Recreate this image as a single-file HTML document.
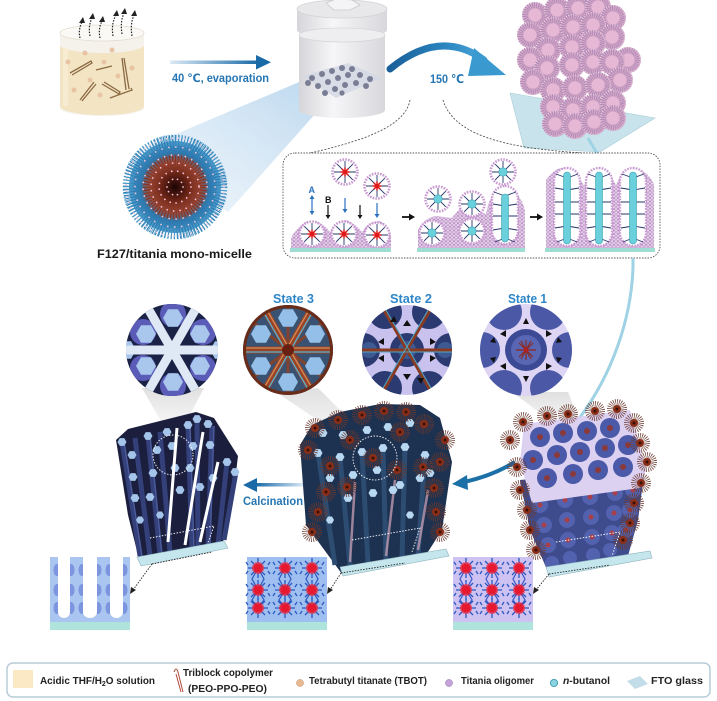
<!DOCTYPE html>
<html><head><meta charset="utf-8">
<style>
html,body{margin:0;padding:0;background:#fff;}
svg{display:block;}
text{font-family:"Liberation Sans","DejaVu Sans",Arial,sans-serif;font-weight:bold;}
</style></head><body>
<svg width="717" height="701" viewBox="0 0 717 701" xmlns="http://www.w3.org/2000/svg">
<defs>
 <radialGradient id="mg" cx="0.5" cy="0.5" r="0.5">
  <stop offset="0" stop-color="#1a0404"/>
  <stop offset="0.3" stop-color="#6a2416"/>
  <stop offset="0.55" stop-color="#9a4a3a"/>
  <stop offset="0.75" stop-color="#2f78ad"/>
  <stop offset="1" stop-color="#4b97c8"/>
 </radialGradient>
 <linearGradient id="arr1" x1="0" x2="1"><stop offset="0" stop-color="#dceaf5"/><stop offset="1" stop-color="#1a6aa8"/></linearGradient>
 <linearGradient id="arr2" x1="0" x2="1"><stop offset="0" stop-color="#1a5f9a"/><stop offset="0.6" stop-color="#2a86c0"/><stop offset="1" stop-color="#4aa6d8"/></linearGradient>
 <linearGradient id="arr3" x1="1" x2="0"><stop offset="0" stop-color="#dceaf5"/><stop offset="1" stop-color="#1a6aa8"/></linearGradient>
 <linearGradient id="beam" x1="1" y1="0" x2="0" y2="1"><stop offset="0" stop-color="#b8d6ee" stop-opacity="0.95"/><stop offset="1" stop-color="#e2eef8" stop-opacity="0.5"/></linearGradient>
 <linearGradient id="jarg" x1="0" x2="1"><stop offset="0" stop-color="#d6d6da"/><stop offset="0.4" stop-color="#f6f6f8"/><stop offset="1" stop-color="#d8d8dc"/></linearGradient>
 <linearGradient id="gb" x1="0" y1="0" x2="0" y2="1"><stop offset="0" stop-color="#dcdcdc" stop-opacity="0.9"/><stop offset="1" stop-color="#f2f2f2" stop-opacity="0.6"/></linearGradient>
 <pattern id="pd" width="4" height="3.6" patternUnits="userSpaceOnUse"><rect width="4" height="3.6" fill="#f3e4f3"/><circle cx="2" cy="1.8" r="1.5" fill="#e8c8ec" stroke="#a880b8" stroke-width="0.5"/></pattern>
 <polygon id="hx" points="10,0 5,8.7 -5,8.7 -10,0 -5,-8.7 5,-8.7"/>
 <g id="pb">
  <circle r="13" fill="#d3a4c6"/>
  <circle r="10" fill="none" stroke="#7a6aa2" stroke-width="6" stroke-dasharray="0.6 1.5" opacity="0.6"/>
  <circle r="6.5" fill="#e6b8d6"/>
  <circle r="12.3" fill="none" stroke="#f2d6e8" stroke-width="1" stroke-dasharray="1 1.5"/>
 </g>
 <g id="sp">
  <circle r="6.5" fill="none" stroke="#6a3a30" stroke-width="7" stroke-dasharray="0.6 1.1"/>
  <circle r="4" fill="#8a2e18"/>
  <circle r="1.5" fill="#3a1008"/>
 </g>
 <g id="mr">
  <circle r="12.5" fill="#fff" stroke="#c89ad0" stroke-width="2.6" stroke-dasharray="1.6 1.2"/>
  <path d="M0 0L0 -11M0 0L7.8 -7.8M0 0L11 0M0 0L7.8 7.8M0 0L0 11M0 0L-7.8 7.8M0 0L-11 0M0 0L-7.8 -7.8" stroke="#243468" stroke-width="0.9"/>
  <path d="M-4.5 0L4.5 0M0 -4.5L0 4.5M-3.2 -3.2L3.2 3.2M-3.2 3.2L3.2 -3.2" stroke="#e01818" stroke-width="1.5"/>
 </g>
 <g id="mc">
  <circle r="12.5" fill="#fff" stroke="#c89ad0" stroke-width="2.6" stroke-dasharray="1.6 1.2"/>
  <path d="M0 0L0 -11M0 0L7.8 -7.8M0 0L11 0M0 0L7.8 7.8M0 0L0 11M0 0L-7.8 7.8M0 0L-11 0M0 0L-7.8 -7.8" stroke="#243468" stroke-width="0.9"/>
  <circle r="4.2" fill="#6ad0dc" stroke="#3aa0b0" stroke-width="0.6"/>
 </g>
 <g id="st">
  <path d="M0 -10L0 10M-10 0L10 0M-7 -7L7 7M-7 7L7 -7M-10 -3L-12 -6M-10 3L-12 6M10 -3L12 -6M10 3L12 6" stroke="#2a58c0" stroke-width="1.3"/>
  <path d="M0 -6L0 6M-6 0L6 0M-4.2 -4.2L4.2 4.2M-4.2 4.2L4.2 -4.2M-2.3 -5.5L2.3 5.5M-5.5 -2.3L5.5 2.3M-2.3 5.5L2.3 -5.5M-5.5 2.3L5.5 -2.3" stroke="#e8182e" stroke-width="1.4"/>
  <circle r="2" fill="#e8182e"/>
 </g>
 <clipPath id="c1"><circle cx="172" cy="350" r="46"/></clipPath>
 <clipPath id="c3"><circle cx="288" cy="350" r="45"/></clipPath>
 <clipPath id="c2"><circle cx="407" cy="350" r="45"/></clipPath>
 <clipPath id="c0"><circle cx="526" cy="350" r="46"/></clipPath>
</defs>

<!-- ===== Beaker ===== -->
<path d="M60 33 V108 A42 8 0 0 0 144 108 V33 Z" fill="#f5f2ec"/>
<path d="M60 45 V106 A42 9 0 0 0 144 106 V45 A42 8 0 0 1 60 45 Z" fill="#f3e4c4"/>
<ellipse cx="102" cy="33" rx="42" ry="8" fill="#fbf9f5" stroke="#e2dccf" stroke-width="0.8"/>
<rect x="63" y="48" width="5" height="58" fill="#f8ecd4" opacity="0.8"/>
<g stroke="#8b6a42" stroke-width="1.3" fill="none">
 <path d="M72 75 L92 63 L91 61 L70 73"/>
 <path d="M80 100 L94 82 M82 101 L96 84"/>
 <path d="M104 82 L120 92 L119 94 L102 84"/>
 <path d="M122 58 L126 90 M124 58 L129 89"/>
 <path d="M96 70 L112 66"/>
 <path d="M110 98 L132 90 L131 88"/>
</g>
<g fill="#e8c4a4">
 <circle cx="85" cy="53" r="2.5"/><circle cx="112" cy="50" r="2.5"/><circle cx="90" cy="80" r="2.5"/>
 <circle cx="118" cy="76" r="2.5"/><circle cx="100" cy="95" r="2.5"/><circle cx="74" cy="90" r="2.5"/>
 <circle cx="132" cy="68" r="2.5"/><circle cx="104" cy="62" r="2.5"/><circle cx="68" cy="62" r="2.5"/>
</g>
<g stroke="#222" stroke-width="1.2" stroke-dasharray="1.5 1.4" fill="none">
 <path d="M80 38 Q78 30 82 22"/><path d="M90 36 Q88 26 92 18"/><path d="M100 38 Q98 29 102 21"/>
 <path d="M113 36 Q111 24 116 15"/><path d="M122 34 Q120 22 124 13"/><path d="M132 36 Q130 24 134 15"/>
</g>
<g fill="#222">
 <polygon points="79,23 83,17 85,23"/><polygon points="89,19 93,13 95,19"/><polygon points="99,22 103,16 105,22"/>
 <polygon points="113,16 117,10 119,16"/><polygon points="121,14 125,8 127,14"/><polygon points="131,16 135,10 137,16"/>
</g>

<!-- arrow 40C -->
<rect x="170" y="60.5" width="88" height="3.5" fill="url(#arr1)"/>
<polygon points="256,55 271,62.3 256,69.5" fill="#1a6aa8"/>
<text x="172" y="82" font-size="11.5" fill="#2676b4" textLength="97" lengthAdjust="spacingAndGlyphs">40 ℃, evaporation</text>

<!-- beam -->
<polygon points="304,80 324,104 228,212 138,150" fill="url(#beam)"/>

<!-- ===== Jar ===== -->
<path d="M297 9 V30 A45 8 0 0 0 387 30 V9 Z" fill="url(#jarg)"/>
<ellipse cx="342" cy="9" rx="45" ry="9" fill="#e8e8ea" stroke="#d2d2d6" stroke-width="0.8"/>
<polygon points="326,3 336,-1 352,0 360,5 350,10 334,10" fill="#f4f4f6" stroke="#cacace" stroke-width="0.8"/>
<path d="M299 35 V110 A43 8 0 0 0 385 110 V35 Z" fill="url(#jarg)"/>
<ellipse cx="342" cy="35" rx="43" ry="7" fill="#eeeef0" stroke="#d6d6da" stroke-width="0.8"/>
<polygon points="302,76 348,63 382,78 336,98" fill="#d4d8e4" opacity="0.85"/>
<g fill="#7a7e94">
 <circle cx="312" cy="78" r="3"/><circle cx="322" cy="74" r="3"/><circle cx="332" cy="71" r="3"/><circle cx="342" cy="68" r="3"/><circle cx="352" cy="69" r="3"/>
 <circle cx="318" cy="86" r="3"/><circle cx="328" cy="82" r="3"/><circle cx="338" cy="78" r="3"/><circle cx="348" cy="75" r="3"/><circle cx="360" cy="75" r="3"/><circle cx="370" cy="79" r="3"/>
 <circle cx="325" cy="93" r="3"/><circle cx="335" cy="89" r="3"/><circle cx="345" cy="85" r="3"/><circle cx="356" cy="83" r="3"/><circle cx="366" cy="86" r="3"/>
 <circle cx="308" cy="83" r="3"/><circle cx="342" cy="93" r="2.6"/>
</g>

<!-- ===== Main micelle ===== -->
<circle cx="175" cy="187" r="46" fill="url(#mg)"/>
<circle cx="175" cy="187" r="43" fill="none" stroke="#2a7cb4" stroke-width="18" stroke-dasharray="1 1.7"/>
<circle cx="175" cy="187" r="47" fill="none" stroke="#4fa0cc" stroke-width="11" stroke-dasharray="0.8 2.4"/>
<circle cx="175" cy="187" r="24" fill="none" stroke="#8a3422" stroke-width="16" stroke-dasharray="1 1.4"/>
<g fill="none" stroke="#f2c4d8" stroke-width="1.8" stroke-linecap="round">
 <circle cx="175" cy="187" r="8" stroke-dasharray="0 5"/>
 <circle cx="175" cy="187" r="16" stroke-dasharray="0 6"/>
 <circle cx="175" cy="187" r="24" stroke-dasharray="0 6.5"/>
 <circle cx="175" cy="187" r="32" stroke-dasharray="0 7"/>
 <circle cx="175" cy="187" r="40" stroke-dasharray="0 7"/>
 <circle cx="175" cy="187" r="49" stroke-dasharray="0 6"/>
</g>
<text x="97" y="258" font-size="12" fill="#1a1a1a" textLength="155" lengthAdjust="spacingAndGlyphs">F127/titania mono-micelle</text>

<!-- curved arrow 150 -->
<path d="M390 69 Q440 28 484 60" fill="none" stroke="url(#arr2)" stroke-width="7" stroke-linecap="round"/>
<polygon points="474,48 506,75 468,76" fill="#3a9ad0"/>
<text x="430" y="83" font-size="12" fill="#2676b4" textLength="34" lengthAdjust="spacingAndGlyphs">150 ℃</text>

<!-- ===== Pink sphere stack ===== -->
<polygon points="510,93 655,118 600,152 524,148" fill="#c8e3eb" stroke="#a8ccd8" stroke-width="0.6"/>
<g>
 <use href="#pb" x="535" y="15"/><use href="#pb" x="557" y="10"/><use href="#pb" x="578" y="8"/><use href="#pb" x="598" y="7"/><use href="#pb" x="613" y="18"/>
 <use href="#pb" x="530" y="35"/><use href="#pb" x="553" y="30"/><use href="#pb" x="573" y="27"/><use href="#pb" x="593" y="25"/><use href="#pb" x="612" y="37"/>
 <use href="#pb" x="548" y="50"/><use href="#pb" x="572" y="47"/><use href="#pb" x="593" y="43"/><use href="#pb" x="628" y="60"/>
 <use href="#pb" x="530" y="60"/><use href="#pb" x="547" y="68"/><use href="#pb" x="572" y="65"/><use href="#pb" x="593" y="62"/><use href="#pb" x="612" y="62"/>
 <use href="#pb" x="533" y="82"/><use href="#pb" x="620" y="80"/><use href="#pb" x="553" y="90"/><use href="#pb" x="575" y="88"/><use href="#pb" x="598" y="85"/>
 <use href="#pb" x="553" y="107"/><use href="#pb" x="573" y="110"/><use href="#pb" x="593" y="107"/><use href="#pb" x="613" y="103"/>
 <use href="#pb" x="555" y="124"/><use href="#pb" x="575" y="126"/><use href="#pb" x="594" y="122"/><use href="#pb" x="613" y="118"/>
</g>

<!-- dotted curves -->
<path d="M410 100 C405 130 350 145 287 158" fill="none" stroke="#444" stroke-width="0.8" stroke-dasharray="2 1.5"/>
<path d="M443 100 C455 140 520 150 600 154" fill="none" stroke="#444" stroke-width="0.8" stroke-dasharray="2 1.5"/>
<line x1="588" y1="138" x2="598" y2="155" stroke="#9ed2e4" stroke-width="3"/>

<!-- ===== Box ===== -->
<rect x="283" y="153" width="377" height="105" rx="12" fill="#fff" stroke="#555" stroke-width="0.9" stroke-dasharray="1.5 1.3"/>
<!-- panel 1 -->
<path d="M291 248 L291 238 Q296 228 306 222 L318 222 Q326 226 330 232 Q336 222 346 220 Q356 224 362 232 Q368 222 380 221 Q390 228 391 238 L391 248 Z" fill="url(#pd)"/>
<use href="#mr" x="312" y="234"/><use href="#mr" x="344" y="234"/><use href="#mr" x="377" y="235"/>
<use href="#mr" x="345" y="172"/><use href="#mr" x="377" y="186"/>
<rect x="290" y="248" width="101" height="4" fill="#9edcd4"/>
<g stroke-width="1.2">
 <line x1="312" y1="198" x2="312" y2="212" stroke="#2a70c0"/>
 <line x1="345" y1="198" x2="345" y2="210" stroke="#2a70c0"/>
 <line x1="377" y1="203" x2="377" y2="215" stroke="#2a70c0"/>
 <line x1="328" y1="205" x2="328" y2="216" stroke="#111"/>
 <line x1="360" y1="205" x2="360" y2="216" stroke="#111"/>
</g>
<g>
 <polygon points="309.5,211 312,215 314.5,211" fill="#2a70c0"/><polygon points="309.5,199 312,195 314.5,199" fill="#2a70c0"/>
 <polygon points="342.5,209 345,213 347.5,209" fill="#2a70c0"/><polygon points="374.5,214 377,218 379.5,214" fill="#2a70c0"/>
 <polygon points="325.5,215 328,219 330.5,215" fill="#111"/><polygon points="357.5,215 360,219 362.5,215" fill="#111"/>
</g>
<text x="308.5" y="193" font-size="9" fill="#2a70c0">A</text>
<text x="325" y="203" font-size="9" fill="#111">B</text>
<line x1="402" y1="217" x2="410" y2="217" stroke="#111" stroke-width="1.8"/><polygon points="409,213.5 415,217 409,220.5" fill="#111"/>
<!-- panel 2 -->
<path d="M418 248 L418 230 Q424 218 436 216 L452 218 Q460 206 470 205 Q478 212 486 214 Q490 190 505 186 Q520 192 525 210 L525 248 Z" fill="url(#pd)"/>
<use href="#mc" x="432" y="233"/><use href="#mc" x="472" y="231"/><use href="#mc" x="472" y="204"/><use href="#mc" x="438" y="199"/>
<rect x="492" y="186" width="26" height="58" rx="13" fill="#fff" stroke="#c89ad0" stroke-width="2.4" stroke-dasharray="1.6 1.2"/>
<path d="M505 196 L494 192 M505 206 L493 204 M505 216 L493 216 M505 228 L493 230 M505 238 L495 242 M505 196 L516 192 M505 206 L517 204 M505 216 L517 216 M505 228 L517 230 M505 238 L515 242" stroke="#243468" stroke-width="0.9"/>
<rect x="501.5" y="194" width="7" height="48" rx="3.5" fill="#6ad0dc" stroke="#3aa0b0" stroke-width="0.6"/>
<use href="#mc" x="503" y="172"/>
<rect x="417" y="248" width="108" height="4" fill="#9edcd4"/>
<line x1="530" y1="217" x2="538" y2="217" stroke="#111" stroke-width="1.8"/><polygon points="537,213.5 543,217 537,220.5" fill="#111"/>
<!-- panel 3 -->
<path d="M546 248 L546 180 Q556 166 566 168 Q578 174 584 186 Q592 168 600 168 Q610 170 616 186 Q622 168 634 168 Q650 172 654 185 L654 248 Z" fill="url(#pd)"/>
<g>
 <rect x="554" y="168" width="26" height="78" rx="13" fill="#fff" stroke="#c89ad0" stroke-width="2.4" stroke-dasharray="1.6 1.2"/>
 <rect x="586" y="168" width="26" height="78" rx="13" fill="#fff" stroke="#c89ad0" stroke-width="2.4" stroke-dasharray="1.6 1.2"/>
 <rect x="620" y="168" width="26" height="78" rx="13" fill="#fff" stroke="#c89ad0" stroke-width="2.4" stroke-dasharray="1.6 1.2"/>
 <g stroke="#243468" stroke-width="0.9">
  <path d="M567 178 L556 174 M567 190 L555 188 M567 202 L555 202 M567 214 L555 214 M567 226 L555 228 M567 238 L557 242 M567 178 L578 174 M567 190 L579 188 M567 202 L579 202 M567 214 L579 214 M567 226 L579 228 M567 238 L577 242"/>
  <path d="M599 178 L588 174 M599 190 L587 188 M599 202 L587 202 M599 214 L587 214 M599 226 L587 228 M599 238 L589 242 M599 178 L610 174 M599 190 L611 188 M599 202 L611 202 M599 214 L611 214 M599 226 L611 228 M599 238 L609 242"/>
  <path d="M633 178 L622 174 M633 190 L621 188 M633 202 L621 202 M633 214 L621 214 M633 226 L621 228 M633 238 L623 242 M633 178 L644 174 M633 190 L645 188 M633 202 L645 202 M633 214 L645 214 M633 226 L645 228 M633 238 L643 242"/>
 </g>
 <rect x="563.5" y="172" width="7" height="72" rx="3.5" fill="#6ad0dc" stroke="#3aa0b0" stroke-width="0.6"/>
 <rect x="595.5" y="172" width="7" height="72" rx="3.5" fill="#6ad0dc" stroke="#3aa0b0" stroke-width="0.6"/>
 <rect x="629.5" y="172" width="7" height="72" rx="3.5" fill="#6ad0dc" stroke="#3aa0b0" stroke-width="0.6"/>
</g>
<rect x="545" y="248" width="110" height="4" fill="#9edcd4"/>

<!-- light blue connector line -->
<path d="M633 258 L633 268 C631 320 612 375 578 420" fill="none" stroke="#9ed2e4" stroke-width="3"/>

<!-- ===== gray beams ===== -->
<polygon points="142,388 204,388 182,430 166,430" fill="url(#gb)"/>
<polygon points="276,392 318,388 366,436 350,442" fill="url(#gb)"/>
<polygon points="512,392 568,392 582,428 560,428" fill="url(#gb)"/>

<!-- ===== State circles ===== -->
<g clip-path="url(#c1)">
 <rect x="120" y="300" width="110" height="100" fill="#1a2246"/>
 <g fill="#5a5cb8">
  <circle cx="173" cy="314" r="13"/><circle cx="203" cy="332" r="13"/><circle cx="203" cy="368" r="13"/>
  <circle cx="173" cy="386" r="13"/><circle cx="143" cy="368" r="13"/><circle cx="143" cy="332" r="13"/>
 </g>
 <g fill="#a9c6ec">
  <use href="#hx" transform="translate(173,318)"/><use href="#hx" transform="translate(200,334)"/><use href="#hx" transform="translate(200,366)"/>
  <use href="#hx" transform="translate(173,382)"/><use href="#hx" transform="translate(146,366)"/><use href="#hx" transform="translate(146,334)"/>
  <use href="#hx" transform="translate(126,350)"/><use href="#hx" transform="translate(220,350)"/>
 </g>
 <g stroke="#dfe8f5" stroke-width="9">
  <line x1="120" y1="350" x2="225" y2="350"/>
  <line x1="146" y1="305" x2="198" y2="395"/>
  <line x1="198" y1="305" x2="146" y2="395"/>
 </g>
</g>
<g clip-path="url(#c3)">
 <rect x="240" y="300" width="100" height="100" fill="#3a5272"/>
 <g stroke="#8a4226" stroke-width="3" opacity="0.9">
  <line x1="288" y1="350" x2="250" y2="320"/><line x1="288" y1="350" x2="326" y2="320"/><line x1="288" y1="350" x2="250" y2="380"/><line x1="288" y1="350" x2="326" y2="380"/>
  <line x1="288" y1="350" x2="288" y2="302"/><line x1="288" y1="350" x2="288" y2="398"/>
 </g>
 <g fill="#94bfe8">
  <use href="#hx" transform="translate(288,318)"/><use href="#hx" transform="translate(315,334)"/><use href="#hx" transform="translate(315,366)"/>
  <use href="#hx" transform="translate(288,382)"/><use href="#hx" transform="translate(261,366)"/><use href="#hx" transform="translate(261,334)"/>
 </g>
 <g stroke="#9a4426" stroke-width="7">
  <line x1="240" y1="350" x2="336" y2="350"/><line x1="262" y1="305" x2="314" y2="395"/><line x1="314" y1="305" x2="262" y2="395"/>
 </g>
 <g stroke="#d48a58" stroke-width="1.3">
  <line x1="240" y1="348" x2="336" y2="348"/><line x1="264" y1="305" x2="316" y2="395"/><line x1="312" y1="305" x2="260" y2="395"/>
 </g>
 <g stroke="#58b0d0" stroke-width="1.3">
  <line x1="240" y1="352" x2="336" y2="352"/><line x1="260" y1="306" x2="312" y2="396"/><line x1="316" y1="306" x2="264" y2="396"/>
 </g>
 <circle cx="288" cy="350" r="6" fill="#6a2010"/>
 <circle cx="288" cy="350" r="44" fill="none" stroke="#6a2c18" stroke-width="4"/>
</g>
<g clip-path="url(#c2)">
 <rect x="360" y="300" width="100" height="100" fill="#c9c2ee"/>
 <g fill="#2c3a72">
  <circle cx="451" cy="350" r="17"/><circle cx="429" cy="388" r="17"/><circle cx="385" cy="388" r="17"/>
  <circle cx="363" cy="350" r="17"/><circle cx="385" cy="312" r="17"/><circle cx="429" cy="312" r="17"/>
  <circle cx="407" cy="350" r="17"/>
 </g>
 <g fill="#4a70a8" opacity="0.6">
  <circle cx="445" cy="350" r="8"/><circle cx="369" cy="350" r="8"/><circle cx="407" cy="350" r="9"/>
 </g>
 <g stroke="#8a3a20" stroke-width="3">
  <line x1="360" y1="350" x2="455" y2="350"/><line x1="381" y1="305" x2="433" y2="395"/><line x1="433" y1="305" x2="381" y2="395"/>
 </g>
 <g stroke="#50a8c8" stroke-width="1">
  <line x1="360" y1="352" x2="455" y2="352"/><line x1="383" y1="305" x2="435" y2="395"/><line x1="431" y1="305" x2="379" y2="395"/>
 </g>
 <g fill="#111">
  <polygon points="403,326 407,320 411,326"/><polygon points="403,374 407,380 411,374"/>
  <polygon points="384,338 378,342 384,345"/><polygon points="430,338 436,342 430,345"/>
  <polygon points="384,355 378,358 384,362"/><polygon points="430,355 436,358 430,362"/>
  <polygon points="390,322 394,316 397,322"/><polygon points="417,378 421,384 424,378"/>
 </g>
</g>
<g clip-path="url(#c0)">
 <rect x="478" y="300" width="100" height="100" fill="#ddd5f3"/>
 <g fill="#4a58a6">
  <circle cx="570" cy="350" r="18"/><circle cx="548" cy="388" r="18"/><circle cx="504" cy="388" r="18"/>
  <circle cx="482" cy="350" r="18"/><circle cx="504" cy="312" r="18"/><circle cx="548" cy="312" r="18"/>
 </g>
 <circle cx="526" cy="350" r="21" fill="#3c4a96"/>
 <circle cx="526" cy="350" r="15" fill="#5866b4"/>
 <g stroke="#8a2a20" stroke-width="1.2">
  <path d="M516 350 L536 350 M526 340 L526 360 M519 343 L533 357 M519 357 L533 343 M521 341 L531 359 M521 359 L531 341"/>
 </g>
 <circle cx="526" cy="350" r="2.5" fill="#b02020"/>
 <g fill="#111">
  <polygon points="500,334 506,330 506,337"/><polygon points="552,334 546,330 546,337"/>
  <polygon points="500,366 506,363 506,370"/><polygon points="552,366 546,363 546,370"/>
  <polygon points="523,324 526,318 529,324"/><polygon points="523,376 526,382 529,376"/>
  <polygon points="490,342 494,337 496,343"/><polygon points="562,342 558,337 556,343"/>
  <polygon points="490,358 494,363 496,357"/><polygon points="562,358 558,363 556,357"/>
 </g>
</g>
<text x="273" y="303" font-size="13" fill="#2e86c8" textLength="41" lengthAdjust="spacingAndGlyphs">State 3</text>
<text x="390" y="303" font-size="13" fill="#2e86c8" textLength="42" lengthAdjust="spacingAndGlyphs">State 2</text>
<text x="508" y="303" font-size="13" fill="#2e86c8" textLength="39" lengthAdjust="spacingAndGlyphs">State 1</text>

<!-- ===== Left calcined structure ===== -->
<polygon points="116,440 128,429 160,421 196,412 214,418 238,456 232,505 222,546 140,563 128,515" fill="#1b1f3d"/>
<g stroke="#34407a" stroke-width="5" fill="none">
 <line x1="122" y1="442" x2="140" y2="556"/><line x1="135" y1="438" x2="150" y2="556"/>
 <line x1="148" y1="436" x2="160" y2="555"/><line x1="160" y1="432" x2="170" y2="552"/>
 <line x1="188" y1="425" x2="192" y2="549"/><line x1="197" y1="420" x2="198" y2="548"/>
 <line x1="212" y1="426" x2="208" y2="546"/><line x1="227" y1="462" x2="218" y2="545"/>
 <line x1="236" y1="472" x2="224" y2="540"/>
</g>
<g stroke="#4a5a9c" stroke-width="1.5" fill="none">
 <line x1="124" y1="442" x2="142" y2="556"/><line x1="150" y1="436" x2="162" y2="555"/>
 <line x1="190" y1="425" x2="194" y2="549"/><line x1="214" y1="426" x2="210" y2="546"/>
</g>
<g fill="#a4c4ea">
 <use href="#hx" transform="translate(122,442) scale(0.45)"/><use href="#hx" transform="translate(132,455) scale(0.45)"/>
 <use href="#hx" transform="translate(133,477) scale(0.45)"/><use href="#hx" transform="translate(135,498) scale(0.45)"/>
 <use href="#hx" transform="translate(148,436) scale(0.45)"/><use href="#hx" transform="translate(157,450) scale(0.45)"/>
 <use href="#hx" transform="translate(153,473) scale(0.45)"/><use href="#hx" transform="translate(150,497) scale(0.45)"/>
 <use href="#hx" transform="translate(167,432) scale(0.45)"/><use href="#hx" transform="translate(172,446) scale(0.45)"/>
 <use href="#hx" transform="translate(175,468) scale(0.45)"/><use href="#hx" transform="translate(180,490) scale(0.45)"/>
 <use href="#hx" transform="translate(188,425) scale(0.45)"/><use href="#hx" transform="translate(197,419) scale(0.45)"/>
 <use href="#hx" transform="translate(208,424) scale(0.45)"/><use href="#hx" transform="translate(193,446) scale(0.45)"/>
 <use href="#hx" transform="translate(200,487) scale(0.45)"/><use href="#hx" transform="translate(213,478) scale(0.45)"/>
 <use href="#hx" transform="translate(227,462) scale(0.45)"/><use href="#hx" transform="translate(235,472) scale(0.45)"/>
 <use href="#hx" transform="translate(210,445) scale(0.45)"/><use href="#hx" transform="translate(190,468) scale(0.45)"/>
 <use href="#hx" transform="translate(160,515) scale(0.4)"/><use href="#hx" transform="translate(140,520) scale(0.4)"/>
</g>
<g stroke="#fff" stroke-width="3">
 <line x1="177" y1="428" x2="168" y2="542"/><line x1="203" y1="432" x2="185" y2="545"/><line x1="218" y1="462" x2="200" y2="542"/>
</g>
<circle cx="173" cy="455" r="20" fill="none" stroke="#fff" stroke-width="1" stroke-dasharray="1.5 1.5" opacity="0.9"/>
<polyline points="150,538 214,526 206,548" fill="none" stroke="#fff" stroke-width="0.9" stroke-dasharray="1.5 1.5"/>
<polygon points="137,557 224,541 228,548 141,566" fill="#c4e6ec" stroke="#8fb4bf" stroke-width="0.6"/>

<!-- Calcination arrow -->
<rect x="256" y="483" width="48" height="3.5" fill="url(#arr3)"/>
<polygon points="257,478 243,485 257,492" fill="#1a6aa8"/>
<text x="243" y="505" font-size="11.5" fill="#2676b4" textLength="60" lengthAdjust="spacingAndGlyphs">Calcination</text>

<!-- ===== Middle structure ===== -->
<polygon points="300,445 312,425 340,412 380,404 420,405 440,418 452,462 442,530 424,558 342,574 306,525" fill="#1d3150"/>
<g stroke="#2c4c72" stroke-width="5">
 <line x1="318" y1="453" x2="335" y2="565"/><line x1="340" y1="457" x2="350" y2="565"/>
 <line x1="362" y1="452" x2="368" y2="563"/><line x1="383" y1="448" x2="386" y2="560"/>
 <line x1="405" y1="447" x2="402" y2="558"/><line x1="425" y1="455" x2="418" y2="555"/>
</g>
<g stroke="#c8a0b4" stroke-width="2.5" opacity="0.75">
 <line x1="355" y1="482" x2="350" y2="562"/><line x1="395" y1="480" x2="386" y2="556"/><line x1="428" y1="490" x2="418" y2="550"/>
</g>
<g fill="#b8d8f2">
 <use href="#hx" transform="translate(323,433) scale(0.45)"/><use href="#hx" transform="translate(343,435) scale(0.45)"/>
 <use href="#hx" transform="translate(367,430) scale(0.45)"/><use href="#hx" transform="translate(388,427) scale(0.45)"/>
 <use href="#hx" transform="translate(410,423) scale(0.45)"/><use href="#hx" transform="translate(318,453) scale(0.45)"/>
 <use href="#hx" transform="translate(340,457) scale(0.45)"/><use href="#hx" transform="translate(362,452) scale(0.45)"/>
 <use href="#hx" transform="translate(383,448) scale(0.45)"/><use href="#hx" transform="translate(405,447) scale(0.45)"/>
 <use href="#hx" transform="translate(425,455) scale(0.45)"/><use href="#hx" transform="translate(330,478) scale(0.45)"/>
 <use href="#hx" transform="translate(353,475) scale(0.45)"/><use href="#hx" transform="translate(377,470) scale(0.45)"/>
 <use href="#hx" transform="translate(400,485) scale(0.45)"/><use href="#hx" transform="translate(420,478) scale(0.45)"/>
 <use href="#hx" transform="translate(348,498) scale(0.45)"/><use href="#hx" transform="translate(373,493) scale(0.45)"/>
 <use href="#hx" transform="translate(393,490) scale(0.45)"/><use href="#hx" transform="translate(430,473) scale(0.45)"/>
 <use href="#hx" transform="translate(330,520) scale(0.4)"/><use href="#hx" transform="translate(410,515) scale(0.4)"/>
</g>
<g>
 <use href="#sp" x="315" y="428"/><use href="#sp" x="338" y="420"/><use href="#sp" x="362" y="415"/><use href="#sp" x="384" y="411"/>
 <use href="#sp" x="406" y="412"/><use href="#sp" x="424" y="424"/><use href="#sp" x="440" y="462"/><use href="#sp" x="308" y="450"/>
 <use href="#sp" x="330" y="466"/><use href="#sp" x="347" y="487"/><use href="#sp" x="326" y="492"/><use href="#sp" x="373" y="458"/>
 <use href="#sp" x="397" y="470"/><use href="#sp" x="423" y="467"/><use href="#sp" x="350" y="440"/><use href="#sp" x="400" y="432"/>
 <use href="#sp" x="434" y="488"/><use href="#sp" x="318" y="512"/><use href="#sp" x="436" y="512"/><use href="#sp" x="445" y="440"/>
 <use href="#sp" x="312" y="532"/><use href="#sp" x="440" y="532"/>
</g>
<circle cx="375" cy="458" r="22" fill="none" stroke="#fff" stroke-width="1" stroke-dasharray="1.5 1.5" opacity="0.9"/>
<polyline points="352,540 420,528 412,552" fill="none" stroke="#fff" stroke-width="0.9" stroke-dasharray="1.5 1.5"/>
<polygon points="340,567 446,549 449,556 343,576" fill="#c4e6ec" stroke="#8fb4bf" stroke-width="0.6"/>

<!-- arrow right -> middle -->
<path d="M515 462 Q492 476 464 482" fill="none" stroke="#1c70a8" stroke-width="4"/>
<polygon points="452,484 467,475 468,490" fill="#1c70a8"/>

<!-- ===== Right structure ===== -->
<polygon points="520,480 645,468 638,520 628,556 548,572 530,530" fill="#3e4c8e"/>
<g fill="#5262ae">
 <circle cx="540" cy="505" r="8"/><circle cx="544" cy="525" r="8"/><circle cx="548" cy="545" r="8"/><circle cx="552" cy="563" r="7"/>
 <circle cx="565" cy="500" r="8"/><circle cx="567" cy="520" r="8"/><circle cx="568" cy="540" r="8"/><circle cx="570" cy="558" r="7"/>
 <circle cx="590" cy="497" r="8"/><circle cx="591" cy="517" r="8"/><circle cx="592" cy="537" r="8"/><circle cx="593" cy="555" r="7"/>
 <circle cx="615" cy="493" r="8"/><circle cx="614" cy="513" r="8"/><circle cx="612" cy="533" r="8"/><circle cx="610" cy="550" r="7"/>
 <circle cx="633" cy="490" r="8"/><circle cx="630" cy="510" r="8"/><circle cx="626" cy="530" r="8"/>
</g>
<g fill="#a8404a">
 <circle cx="540" cy="505" r="2.5"/><circle cx="544" cy="525" r="2.5"/><circle cx="548" cy="545" r="2.5"/>
 <circle cx="565" cy="500" r="2.5"/><circle cx="567" cy="520" r="2.5"/><circle cx="568" cy="540" r="2.5"/>
 <circle cx="590" cy="497" r="2.5"/><circle cx="591" cy="517" r="2.5"/><circle cx="592" cy="537" r="2.5"/>
 <circle cx="615" cy="493" r="2.5"/><circle cx="614" cy="513" r="2.5"/><circle cx="612" cy="533" r="2.5"/>
 <circle cx="633" cy="490" r="2.5"/><circle cx="630" cy="510" r="2.5"/><circle cx="626" cy="530" r="2.5"/>
</g>
<polygon points="524,424 630,410 646,470 640,488 532,503 520,462" fill="#ddd1f2"/>
<g fill="#4a5aa8">
 <circle cx="540" cy="437" r="10"/><circle cx="563" cy="433" r="10"/><circle cx="587" cy="431" r="10"/><circle cx="610" cy="428" r="10"/>
 <circle cx="533" cy="460" r="10"/><circle cx="557" cy="455" r="10"/><circle cx="580" cy="452" r="10"/><circle cx="605" cy="448" r="10"/><circle cx="628" cy="445" r="10"/>
 <circle cx="547" cy="478" r="10"/><circle cx="573" cy="474" r="10"/><circle cx="598" cy="470" r="10"/><circle cx="623" cy="467" r="10"/>
</g>
<g fill="#8a3a3a">
 <circle cx="540" cy="437" r="3"/><circle cx="563" cy="433" r="3"/><circle cx="587" cy="431" r="3"/><circle cx="610" cy="428" r="3"/>
 <circle cx="533" cy="460" r="3"/><circle cx="557" cy="455" r="3"/><circle cx="580" cy="452" r="3"/><circle cx="605" cy="448" r="3"/><circle cx="628" cy="445" r="3"/>
 <circle cx="547" cy="478" r="3"/><circle cx="573" cy="474" r="3"/><circle cx="598" cy="470" r="3"/><circle cx="623" cy="467" r="3"/>
</g>
<g>
 <use href="#sp" x="523" y="422"/><use href="#sp" x="547" y="416"/><use href="#sp" x="568" y="414"/><use href="#sp" x="595" y="411"/>
 <use href="#sp" x="617" y="409"/><use href="#sp" x="634" y="423"/><use href="#sp" x="647" y="462"/><use href="#sp" x="510" y="440"/>
 <use href="#sp" x="517" y="467"/><use href="#sp" x="520" y="490"/><use href="#sp" x="527" y="510"/><use href="#sp" x="530" y="530"/>
 <use href="#sp" x="536" y="550"/><use href="#sp" x="641" y="483"/><use href="#sp" x="634" y="503"/><use href="#sp" x="630" y="523"/>
 <use href="#sp" x="623" y="540"/><use href="#sp" x="640" y="443"/>
</g>
<polyline points="556,542 620,532 612,556" fill="none" stroke="#fff" stroke-width="0.9" stroke-dasharray="1.5 1.5"/>
<polygon points="546,567 650,551 652,558 549,577" fill="#c4e6ec" stroke="#8fb4bf" stroke-width="0.6"/>

<!-- dotted arrows to insets -->
<g stroke="#222" stroke-width="0.9" stroke-dasharray="1.5 1.3" fill="none">
 <line x1="152" y1="564" x2="133" y2="590"/><line x1="152" y1="564" x2="212" y2="552"/>
 <line x1="341" y1="573" x2="330" y2="590"/><line x1="341" y1="573" x2="405" y2="563"/>
 <line x1="549" y1="574" x2="536" y2="590"/><line x1="549" y1="574" x2="610" y2="565"/>
</g>
<polygon points="130,594 131,587 136,590" fill="#222"/>
<polygon points="327,594 328,587 333,590" fill="#222"/>
<polygon points="533,594 534,587 539,590" fill="#222"/>

<!-- ===== Insets ===== -->
<rect x="50" y="557" width="80" height="73" fill="#a9c5f0"/>
<g fill="#7b95de">
 <ellipse cx="57" cy="570" rx="3.5" ry="6"/><ellipse cx="57" cy="590" rx="3.5" ry="6"/><ellipse cx="57" cy="608" rx="3.5" ry="6"/>
 <ellipse cx="71" cy="570" rx="3.5" ry="6"/><ellipse cx="71" cy="590" rx="3.5" ry="6"/><ellipse cx="71" cy="608" rx="3.5" ry="6"/>
 <ellipse cx="82" cy="570" rx="3.5" ry="6"/><ellipse cx="82" cy="590" rx="3.5" ry="6"/><ellipse cx="82" cy="608" rx="3.5" ry="6"/>
 <ellipse cx="98" cy="570" rx="3.5" ry="6"/><ellipse cx="98" cy="590" rx="3.5" ry="6"/><ellipse cx="98" cy="608" rx="3.5" ry="6"/>
 <ellipse cx="109" cy="570" rx="3.5" ry="6"/><ellipse cx="109" cy="590" rx="3.5" ry="6"/><ellipse cx="109" cy="608" rx="3.5" ry="6"/>
 <ellipse cx="124" cy="570" rx="3.5" ry="6"/><ellipse cx="124" cy="590" rx="3.5" ry="6"/><ellipse cx="124" cy="608" rx="3.5" ry="6"/>
</g>
<g fill="#fff">
 <path d="M58 557 V612 A6 6 0 0 0 70 612 V557 Z"/>
 <path d="M83 557 V612 A7 6 0 0 0 97 612 V557 Z"/>
 <path d="M110 557 V612 A6.5 6 0 0 0 123 612 V557 Z"/>
</g>
<rect x="50" y="622" width="80" height="8" fill="#aee4dc"/>

<rect x="247" y="557" width="80" height="73" fill="#9fbff0"/>
<g stroke="#2a58c0" stroke-width="1.2" fill="none">
 <path d="M258 568 L252 579 L258 590 L252 600 L258 608 M258 568 L264 579 L258 590 L264 600 L258 608"/>
 <path d="M285 568 L279 579 L285 590 L279 600 L285 608 M285 568 L291 579 L285 590 L291 600 L285 608"/>
 <path d="M312 568 L306 579 L312 590 L306 600 L312 608 M312 568 L318 579 L312 590 L318 600 L312 608"/>
</g>
<use href="#st" x="258" y="568"/><use href="#st" x="258" y="590"/><use href="#st" x="258" y="608"/>
<use href="#st" x="285" y="568"/><use href="#st" x="285" y="590"/><use href="#st" x="285" y="608"/>
<use href="#st" x="312" y="568"/><use href="#st" x="312" y="590"/><use href="#st" x="312" y="608"/>
<rect x="247" y="622" width="80" height="8" fill="#aee4dc"/>

<rect x="453" y="557" width="80" height="73" fill="#cdc2f2"/>
<g stroke="#3a58c8" stroke-width="1.2" fill="none">
 <path d="M466 568 L460 579 L466 590 L460 600 L466 608 M466 568 L472 579 L466 590 L472 600 L466 608"/>
 <path d="M492 568 L486 579 L492 590 L486 600 L492 608 M492 568 L498 579 L492 590 L498 600 L492 608"/>
 <path d="M519 568 L513 579 L519 590 L513 600 L519 608 M519 568 L525 579 L519 590 L525 600 L519 608"/>
</g>
<use href="#st" x="466" y="568"/><use href="#st" x="466" y="590"/><use href="#st" x="466" y="608"/>
<use href="#st" x="492" y="568"/><use href="#st" x="492" y="590"/><use href="#st" x="492" y="608"/>
<use href="#st" x="519" y="568"/><use href="#st" x="519" y="590"/><use href="#st" x="519" y="608"/>
<rect x="453" y="622" width="80" height="8" fill="#aee4dc"/>

<!-- ===== Legend ===== -->
<rect x="7" y="663" width="703" height="34" rx="6" fill="#fff" stroke="#b8ccd8" stroke-width="1.5"/>
<rect x="13" y="670" width="20" height="18" fill="#fbe9c6"/>
<text x="40" y="684" font-size="10" fill="#222" textLength="115" lengthAdjust="spacingAndGlyphs">Acidic THF/H<tspan font-size="7" dy="2">2</tspan><tspan dy="-2">O solution</tspan></text>
<path d="M174 672 Q176 666 178 672 L183 692 M176 674 L181 692" fill="none" stroke="#b04a3a" stroke-width="1"/>
<text x="183" y="676" font-size="10" fill="#222" textLength="90" lengthAdjust="spacingAndGlyphs">Triblock copolymer</text>
<text x="188" y="692" font-size="10" fill="#222" textLength="79" lengthAdjust="spacingAndGlyphs">(PEO-PPO-PEO)</text>
<circle cx="300" cy="683" r="3.6" fill="#e8b890" stroke="#c8987a" stroke-width="0.5"/>
<text x="309" y="684" font-size="10" fill="#222" textLength="118" lengthAdjust="spacingAndGlyphs">Tetrabutyl titanate (TBOT)</text>
<circle cx="449" cy="683" r="3.6" fill="#c4a2d8" stroke="#9a7ab0" stroke-width="0.5"/>
<text x="461" y="684" font-size="10" fill="#222" textLength="73" lengthAdjust="spacingAndGlyphs">Titania oligomer</text>
<circle cx="554" cy="683" r="3.6" fill="#8ad4e0" stroke="#3a9ab0" stroke-width="0.9"/>
<text x="563" y="684" font-size="10" fill="#222" textLength="47" lengthAdjust="spacingAndGlyphs"><tspan font-style="italic">n</tspan>-butanol</text>
<polygon points="627,681 640,676 648,684 635,689" fill="#c2dde8"/>
<text x="651" y="684" font-size="10" fill="#222" textLength="52" lengthAdjust="spacingAndGlyphs">FTO glass</text>
</svg>
</body></html>
